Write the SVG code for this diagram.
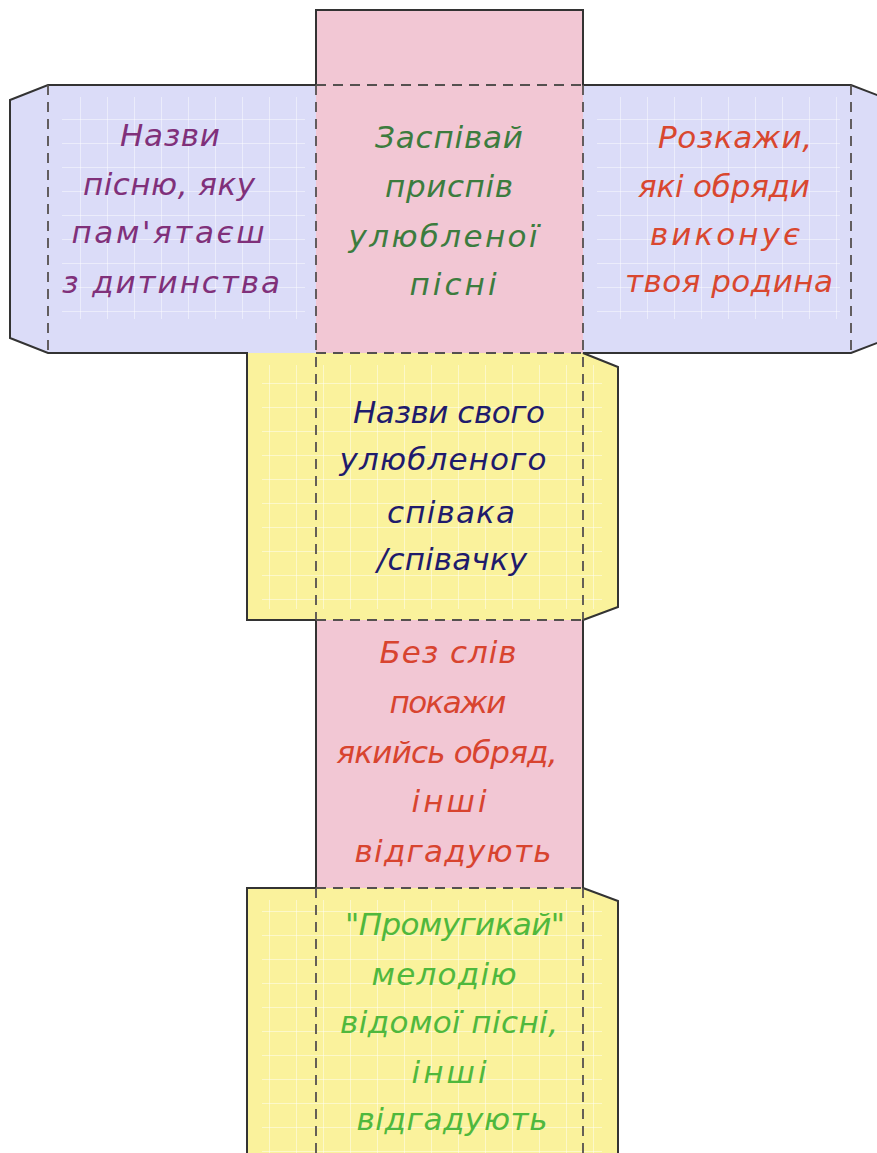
<svg xmlns="http://www.w3.org/2000/svg" width="877" height="1153" viewBox="0 0 877 1153">
<style>
.blue{fill:#dbdcf8}
.pink{fill:#f2c7d4}
.yellow{fill:#faf29c}
.cut{fill:none;stroke:#333;stroke-width:2;stroke-linejoin:miter}
.fold{fill:none;stroke:#55504f;stroke-width:1.8;stroke-dasharray:10 7}
.grid{fill:url(#grid)}
text{font-family:"DejaVu Sans","Liberation Sans",sans-serif;font-style:italic;font-size:31px;text-anchor:middle}
.t1{fill:#80307a}
.t2{fill:#3c7c3e}
.t3{fill:#d9472f}
.t4{fill:#1f1b6c}
.t5{fill:#d8442f}
.t6{fill:#4fb83d}
</style>
<defs>
<pattern id="grid" patternUnits="userSpaceOnUse" width="27" height="24">
<path d="M26.5 0V24M0 23.5H27" stroke="#ffffff" stroke-opacity="0.45" stroke-width="1" fill="none"/>
</pattern>
</defs>
<rect width="877" height="1153" fill="#ffffff"/>

<g id="face-left">
<polygon class="blue" points="10,100 48,85 316,85 316,353 48,353 10,338"/>
<rect class="grid" x="62" y="97" width="243" height="222"/>
<text class="t1" x="170" y="146" textLength="100">Назви</text>
<text class="t1" x="169" y="195" textLength="172">пісню, яку</text>
<text class="t1" x="168" y="243" textLength="193">пам'ятаєш</text>
<text class="t1" x="171" y="293" textLength="218">з дитинства</text>
</g>

<g id="face-top">
<rect class="pink" x="316" y="10" width="267" height="343"/>
<text class="t2" x="449" y="148" textLength="148">Заспівай</text>
<text class="t2" x="449" y="197" textLength="128">приспів</text>
<text class="t2" x="443" y="247" textLength="189">улюбленої</text>
<text class="t2" x="453" y="295" textLength="87">пісні</text>
</g>

<g id="face-right">
<polygon class="blue" points="583,85 851,85 890,100 890,338 851,353 583,353"/>
<rect class="grid" x="597" y="97" width="243" height="222"/>
<text class="t3" x="735" y="148" textLength="154">Розкажи,</text>
<text class="t3" x="724" y="197" textLength="172">які обряди</text>
<text class="t3" x="725" y="245" textLength="150">виконує</text>
<text class="t3" x="729" y="292" textLength="208">твоя родина</text>
</g>

<g id="face-singer">
<polygon class="yellow" points="247,353 583,353 618,367 618,607 583,620 247,620"/>
<rect class="grid" x="262" y="365" width="340" height="244"/>
<text class="t4" x="449" y="423" textLength="192">Назви свого</text>
<text class="t4" x="443" y="470" textLength="207">улюбленого</text>
<text class="t4" x="451" y="523" textLength="128">співака</text>
<text class="t4" x="452" y="570" textLength="150">/співачку</text>
</g>

<g id="face-ritual">
<rect class="pink" x="316" y="620" width="267" height="268"/>
<text class="t5" x="448" y="663" textLength="137">Без слів</text>
<text class="t5" x="448" y="713" textLength="117">покажи</text>
<text class="t5" x="447" y="763" textLength="221">якийсь обряд,</text>
<text class="t5" x="449" y="812" textLength="75">інші</text>
<text class="t5" x="453" y="862" textLength="197">відгадують</text>
</g>

<g id="face-melody">
<polygon class="yellow" points="247,888 583,888 618,901 618,1160 247,1160"/>
<rect class="grid" x="262" y="900" width="340" height="260"/>
<text class="t6" x="455" y="935" textLength="220">"Промугикай"</text>
<text class="t6" x="444" y="985" textLength="145">мелодію</text>
<text class="t6" x="449" y="1033" textLength="218">відомої пісні,</text>
<text class="t6" x="449" y="1083" textLength="75">інші</text>
<text class="t6" x="452" y="1130" textLength="191">відгадують</text>
</g>

<g id="connectors">
<path class="cut" d="M316,85 V10 H583 V85 H851 L890,100 M890,338 L851,353 H583 L618,367 V607 L583,620 V888 L618,901 V1160 M247,1160 V888 H316 V620 H247 V353 H48 L10,338 V100 L48,85 H316"/>
<path class="fold" d="M316,85 H583 M316,353 H583 M316,620 H583 M316,888 H583 M48,85 V353 M851,85 V353 M316,85 V620 M583,85 V620 M316,888 V1160 M583,888 V1160"/>
</g>
</svg>
